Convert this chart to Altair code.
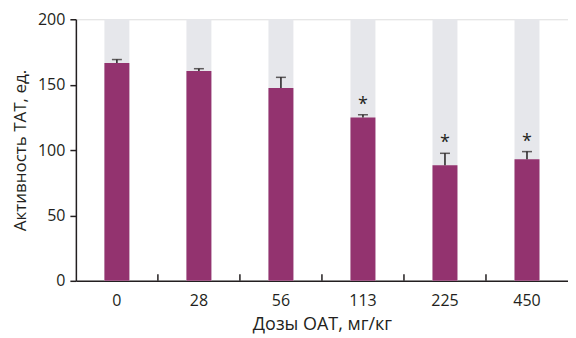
import altair as alt
import pandas as pd

doses = ["0", "28", "56", "113", "225", "450"]
means = [166.5, 160.5, 147.5, 124.8, 88.4, 93.0]
upper = [169.2, 162.2, 155.6, 127.0, 97.5, 98.8]
marks = ["", "", "", "*", "*", "*"]
bg_top = [200] * 6

df = pd.DataFrame({"dose": doses, "mean": means, "upper": upper, "mark": marks, "bg": bg_top})
tick_df = pd.DataFrame({"dose": doses[1:]})

FONT = "Open Sans"
AX = "#231f20"

xscale = alt.Scale(domain=doses, paddingInner=0, paddingOuter=0)
yscale = alt.Scale(domain=[0, 200], nice=False)

x_enc = alt.X(
    "dose:N",
    scale=xscale,
    sort=doses,
    axis=alt.Axis(
        title="Дозы ОАТ, мг/кг",
        labelAngle=0,
        ticks=False,
        labelPadding=12,
        labelFontSize=16,
        titleFontSize=18,
        titlePadding=7,
        domainColor=AX,
        domainWidth=1.5,
        labelColor=AX,
        titleColor=AX,
        titleFontWeight="normal",
        labelFont=FONT,
        titleFont=FONT,
    ),
)

y_axis = alt.Axis(
    title="Активность ТАТ, ед.",
    values=[0, 50, 100, 150, 200],
    tickSize=6,
    tickWidth=1.5,
    tickColor=AX,
    domainColor=AX,
    domainWidth=1.5,
    labelPadding=5,
    labelFontSize=16,
    titleFontSize=17,
    titlePadding=8,
    labelColor=AX,
    titleColor=AX,
    titleFontWeight="normal",
    grid=False,
    labelFont=FONT,
    titleFont=FONT,
)

base = alt.Chart(df)

bg = base.mark_bar(size=25, color="#e6e7eb").encode(
    x=x_enc,
    y=alt.Y("bg:Q", scale=yscale, axis=y_axis),
)

bars = base.mark_bar(size=25, color="#93336f").encode(
    x=alt.X("dose:N", sort=doses),
    y=alt.Y("mean:Q"),
)

err = base.mark_rule(color="#231f20", strokeWidth=1.5).encode(
    x=alt.X("dose:N", sort=doses),
    y=alt.Y("mean:Q"),
    y2="upper:Q",
)

cap = base.mark_tick(color="#231f20", size=10, thickness=1.5, orient="horizontal").encode(
    x=alt.X("dose:N", sort=doses),
    y=alt.Y("upper:Q"),
)

stars = base.mark_text(fontSize=18, font=FONT, color="#231f20", baseline="alphabetic", dy=-5).encode(
    x=alt.X("dose:N", sort=doses),
    y=alt.Y("upper:Q"),
    text="mark:N",
)

xticks = alt.Chart(tick_df).mark_rule(color=AX, strokeWidth=1.5).encode(
    x=alt.X("dose:N", sort=doses, bandPosition=0),
    y=alt.datum(0),
    y2=alt.datum(5),
)

chart = (
    alt.layer(bg, bars, err, cap, stars, xticks)
    .properties(
        width=493,
        height=262,
        autosize=alt.AutoSizeParams(type="none"),
        padding={"left": 68, "top": 11, "right": 0, "bottom": 56},
    )
    .configure_view(stroke=None)
    .configure(background="white")
)

chart.save("out.html", embed_options={"renderer": "svg", "actions": False})
